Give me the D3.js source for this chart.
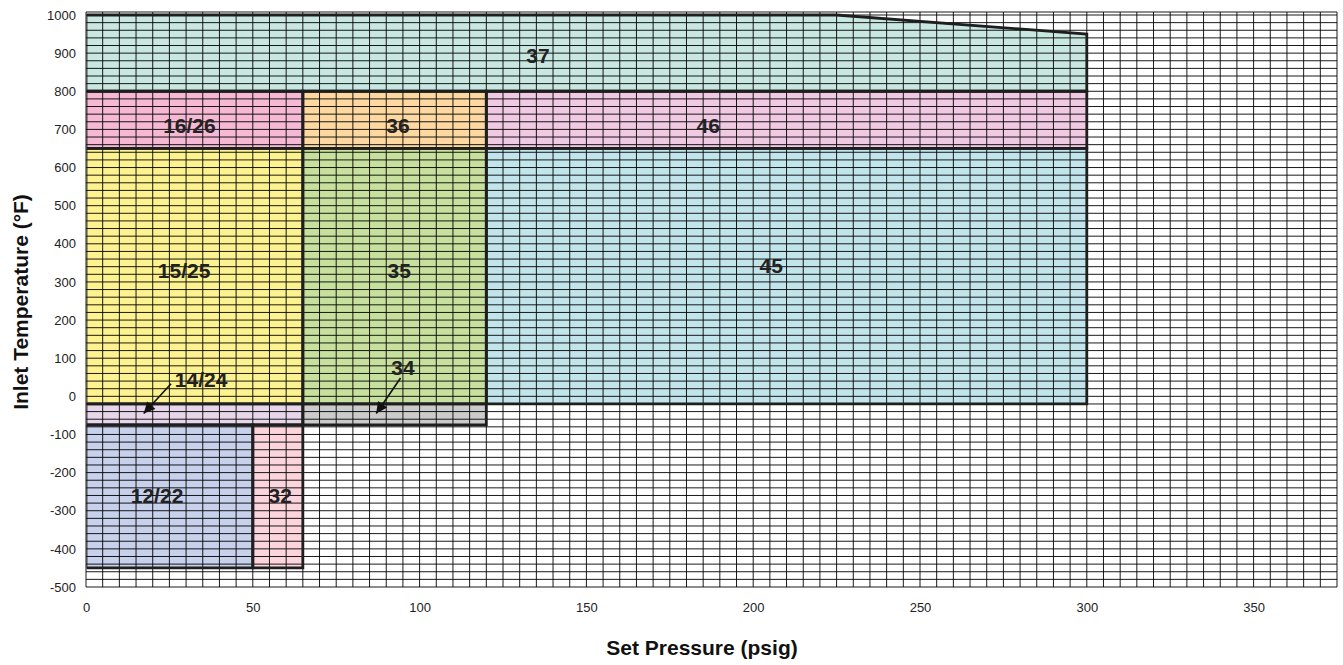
<!DOCTYPE html>
<html>
<head>
<meta charset="utf-8">
<script src="https://cdn.jsdelivr.net/npm/d3@7/dist/d3.min.js"></script>
<style>
  html, body { margin: 0; padding: 0; background: #fff; }
  svg { display: block; }
  text { font-family: "Liberation Sans", Arial, Helvetica, sans-serif; }
</style>
</head>
<body>
<svg id="chart" width="1343" height="665"></svg>
<script>
// ---- data ----
const xTicks = [0, 50, 100, 150, 200, 250, 300, 350];
const yTicks = [1000, 900, 800, 700, 600, 500, 400, 300, 200, 100, 0, -100, -200, -300, -400, -500];
const xDomain = [0, 375];
const yDomain = [-500, 1000];
const xGridStep = 5;
const yGridStep = 20;

// region polygons in (psig, °F)
const regionNames = ["37", "16/26", "36", "46", "15/25", "35", "45", "14/24", "34", "12/22", "32"];
const regionPolys = [
  [[0, 800], [0, 1000], [225, 1000], [300, 950], [300, 800]],
  [[0, 650], [0, 800], [65, 800], [65, 650]],
  [[65, 650], [65, 800], [120, 800], [120, 650]],
  [[120, 650], [120, 800], [300, 800], [300, 650]],
  [[0, -20], [0, 650], [65, 650], [65, -20]],
  [[65, -20], [65, 650], [120, 650], [120, -20]],
  [[120, -20], [120, 650], [300, 650], [300, -20]],
  [[0, -75], [0, -20], [65, -20], [65, -75]],
  [[65, -75], [65, -20], [120, -20], [120, -75]],
  [[0, -450], [0, -75], [50, -75], [50, -450]],
  [[50, -450], [50, -75], [65, -75], [65, -450]]
];
const regionColors = ["#c8e7e0", "#f6b9d5", "#fdd9a1", "#f0c9e2", "#fdf290", "#c8e09d", "#c2e5ec", "#e7d5e9", "#cbcbcb", "#c7d1ec", "#fbd4dc"];

// label positions (psig, °F); null arrow = no pointer
const labelPos = [[135.5, 895], [31, 709], [93.5, 709], [186.5, 709], [29.4, 331], [93.9, 331], [205.4, 342], [34.5, 43], [95, 76], [21.3, -261], [58.2, -261]];
const arrowFrom = [null, null, null, null, null, null, null, [25.5, 33], [94.3, 48], null, null];
const arrowTo = [null, null, null, null, null, null, null, [17.3, -45], [87, -45], null, null];

const xTitle = "Set Pressure (psig)";
const yTitle = "Inlet Temperature (\u00B0F)";

// ---- drawing ----
const svg = d3.select("#chart");
const x = d3.scaleLinear().domain(xDomain).range([86, 1337]);
const y = d3.scaleLinear().domain(yDomain).range([587, 15]);

const defs = svg.append("defs");
defs.append("marker")
  .attr("id", "arrowhead")
  .attr("viewBox", "0 0 10 10")
  .attr("refX", 10).attr("refY", 5)
  .attr("markerWidth", 9.5).attr("markerHeight", 7)
  .attr("markerUnits", "strokeWidth")
  .attr("orient", "auto")
  .append("path").attr("d", "M0,0 L10,5 L0,10 Z").attr("fill", "#111");

defs.append("clipPath").attr("id", "clipLeft")
  .append("rect").attr("x", x(0) + 0.6).attr("y", 0).attr("width", 1343).attr("height", 665);

// fills
const line = d3.line().x(d => x(d[0])).y(d => y(d[1]));
svg.append("g").selectAll("path").data(regionPolys).join("path")
  .attr("d", d => line(d) + "Z")
  .attr("fill", (d, i) => regionColors[i])
  .attr("stroke", "none");

// grid
const gGrid = svg.append("g").attr("stroke", "#000").attr("stroke-width", 0.9);
const xs = d3.range(xDomain[0], xDomain[1] + 0.001, xGridStep);
const ys = d3.range(yDomain[0], yDomain[1] + 0.001, yGridStep);
gGrid.selectAll("line.v").data(xs).join("line").attr("class", "v")
  .attr("x1", d => x(d)).attr("x2", d => x(d))
  .attr("y1", y(yDomain[1]) - 3).attr("y2", y(yDomain[0]));
gGrid.selectAll("line.h").data(ys).join("line").attr("class", "h")
  .attr("x1", x(xDomain[0])).attr("x2", x(xDomain[1]))
  .attr("y1", d => y(d)).attr("y2", d => y(d));
gGrid.append("line")
  .attr("x1", x(xDomain[0])).attr("x2", x(xDomain[1]))
  .attr("y1", y(yDomain[1]) - 3).attr("y2", y(yDomain[1]) - 3);

// region borders
svg.append("g").attr("clip-path", "url(#clipLeft)")
  .selectAll("path").data(regionPolys).join("path")
  .attr("d", d => line(d) + "Z")
  .attr("fill", "none")
  .attr("stroke", "#1e1e1e")
  .attr("stroke-width", 2.8)
  .attr("stroke-linejoin", "miter");

// labels
svg.append("g").selectAll("text").data(regionNames).join("text")
  .attr("x", (d, i) => x(labelPos[i][0]))
  .attr("y", (d, i) => y(labelPos[i][1]))
  .attr("text-anchor", "middle")
  .attr("dominant-baseline", "central")
  .attr("font-size", 21).attr("font-weight", "bold").attr("fill", "#222")
  .text(d => d);

// arrows
svg.append("g").selectAll("line").data(regionNames.map((d, i) => i).filter(i => arrowFrom[i]))
  .join("line")
  .attr("x1", i => x(arrowFrom[i][0])).attr("y1", i => y(arrowFrom[i][1]))
  .attr("x2", i => x(arrowTo[i][0])).attr("y2", i => y(arrowTo[i][1]))
  .attr("stroke", "#111").attr("stroke-width", 1.6)
  .attr("marker-end", "url(#arrowhead)");

// axes
const fmt = d => String(d);
const xAxis = d3.axisBottom(x).tickValues(xTicks).tickFormat(fmt).tickSize(0).tickPadding(0);
const gx = svg.append("g").attr("transform", `translate(0,${y(yDomain[0])})`).call(xAxis);
gx.select(".domain").remove();
gx.selectAll("text").attr("font-size", 13).attr("fill", "#222")
  .attr("font-family", '"Liberation Sans", Arial, sans-serif')
  .attr("y", 25).attr("dy", 0);

const yAxis = d3.axisLeft(y).tickValues(yTicks).tickFormat(fmt).tickSize(0).tickPadding(0);
const gy = svg.append("g").attr("transform", `translate(${x(0) - 10},0)`).call(yAxis);
gy.select(".domain").remove();
gy.selectAll("text").attr("font-size", 13).attr("fill", "#222")
  .attr("font-family", '"Liberation Sans", Arial, sans-serif');

// titles
svg.append("text").attr("x", 702).attr("y", 655)
  .attr("text-anchor", "middle").attr("font-size", 21).attr("font-weight", "bold").attr("fill", "#111")
  .text(xTitle);
svg.append("text").attr("transform", "translate(28,302) rotate(-90)")
  .attr("text-anchor", "middle").attr("font-size", 21).attr("font-weight", "bold").attr("fill", "#111")
  .text(yTitle);
</script>
</body>
</html>
